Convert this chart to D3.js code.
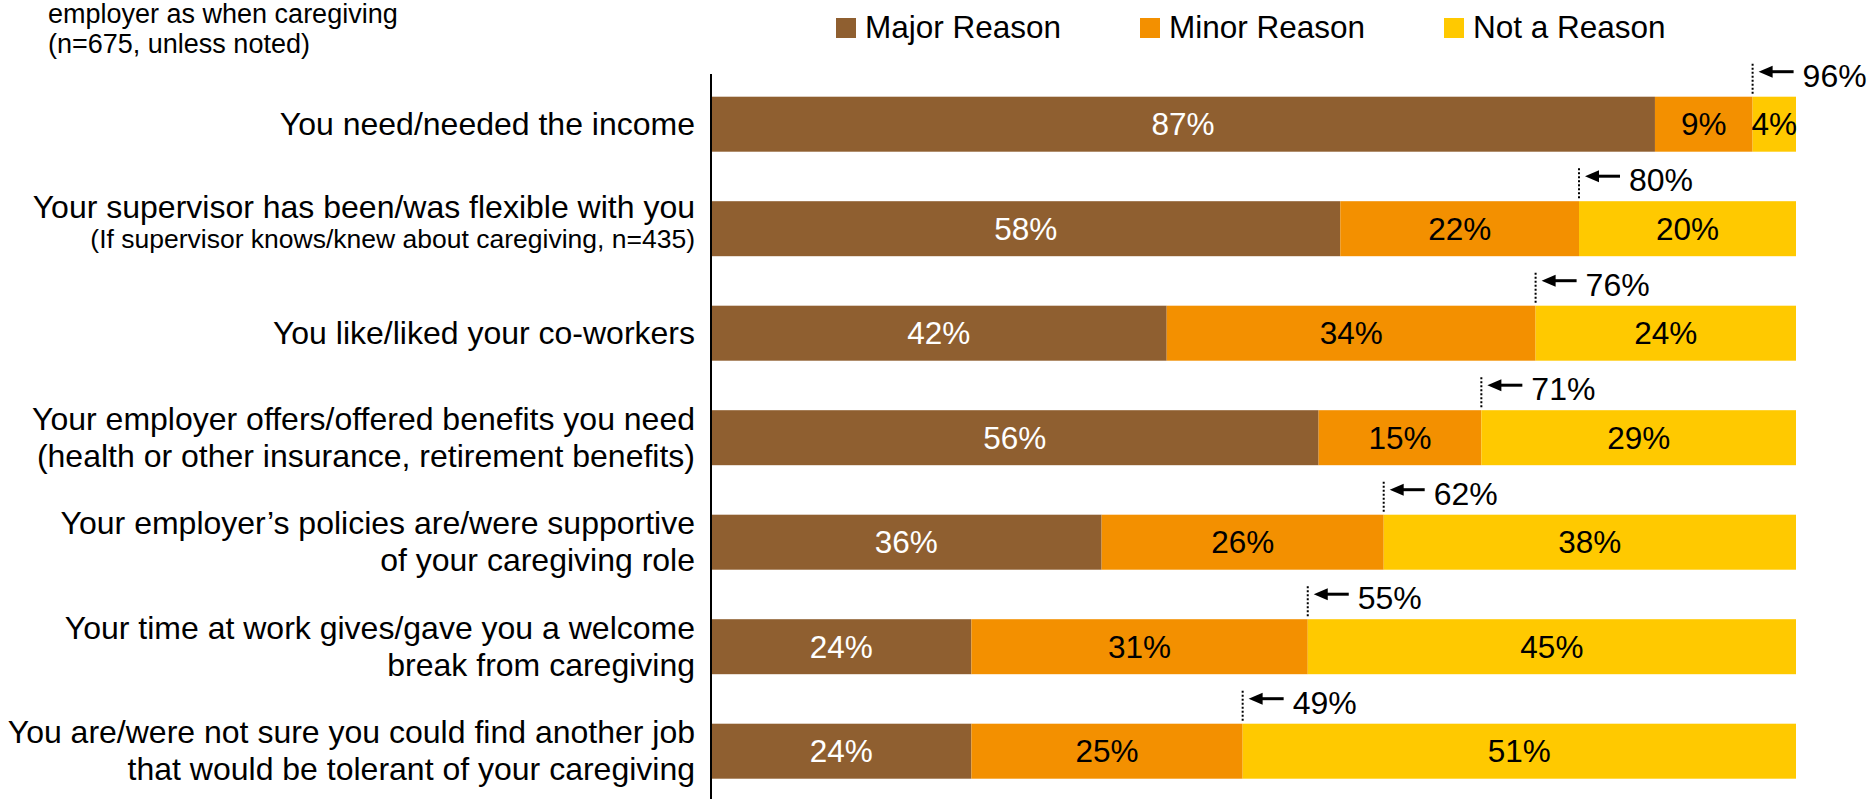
<!DOCTYPE html>
<html>
<head>
<meta charset="utf-8">
<script src="https://cdn.jsdelivr.net/npm/d3@7/dist/d3.min.js"></script>
<style>
  html, body { margin: 0; padding: 0; background: #fff; }
  svg { display: block; }
  text { font-family: "Liberation Sans", Arial, Helvetica, sans-serif; }
</style>
</head>
<body>
<svg id="chart" width="1870" height="799"></svg>
<script>
// Reasons for staying with the employer while caregiving (percent of respondents)
const categories = [
  ["You need/needed the income"],
  ["Your supervisor has been/was flexible with you"],
  ["You like/liked your co-workers"],
  ["Your employer offers/offered benefits you need", "(health or other insurance, retirement benefits)"],
  ["Your employer\u2019s policies are/were supportive", "of your caregiving role"],
  ["Your time at work gives/gave you a welcome", "break from caregiving"],
  ["You are/were not sure you could find another job", "that would be tolerant of your caregiving"]
];
const notes = ["", "(If supervisor knows/knew about caregiving, n=435)", "", "", "", "", ""];

const seriesNames = ["Major Reason", "Minor Reason", "Not a Reason"];
const majorReason = [87, 58, 42, 56, 36, 24, 24];
const minorReason = [9, 22, 34, 15, 26, 31, 25];
const notAReason  = [4, 20, 24, 29, 38, 45, 51];
const combined    = [96, 80, 76, 71, 62, 55, 49];

const titleLines = ["employer as when caregiving", "(n=675, unless noted)"];

const colors = ["#8f5f30", "#f39000", "#ffc900"];
const labelColors = ["#ffffff", "#000000", "#000000"];

const svg = d3.select("#chart");

const x = d3.scaleLinear().domain([0, 100]).range([711, 1796]);
const y = d3.scaleBand()
  .domain(d3.range(categories.length))
  .range([75.8, 799.6])
  .paddingInner(0.4737)
  .paddingOuter(0.2);

const rows = categories.map((c, i) => ({
  i,
  values: [majorReason[i], minorReason[i], notAReason[i]]
}));

const stack = d3.stack().keys([0, 1, 2]).value((d, k) => d.values[k]);
const layers = stack(rows);

// Stacked bars
const layerG = svg.append("g").selectAll("g")
  .data(layers)
  .join("g")
  .attr("fill", (d, k) => colors[k]);

layerG.selectAll("rect")
  .data(d => d)
  .join("rect")
  .attr("x", d => x(d[0]))
  .attr("y", d => y(d.data.i))
  .attr("width", d => x(d[1]) - x(d[0]))
  .attr("height", y.bandwidth());

// Segment value labels
layers.forEach((layer, k) => {
  svg.append("g").selectAll("text")
    .data(layer)
    .join("text")
    .attr("x", d => (x(d[0]) + x(d[1])) / 2)
    .attr("y", d => y(d.data.i) + y.bandwidth() / 2)
    .attr("dy", "0.35em")
    .attr("text-anchor", "middle")
    .attr("font-size", 31.5)
    .attr("fill", labelColors[k])
    .text(d => d.data.values[k] + "%");
});

// Combined "major + minor" markers above each bar
const marker = svg.append("g").selectAll("g")
  .data(combined)
  .join("g")
  .attr("transform", (d, i) => `translate(${x(d)},${y(i)})`);

marker.append("line")
  .attr("x1", 0).attr("x2", 0)
  .attr("y1", -33).attr("y2", -3)
  .attr("stroke", "#000")
  .attr("stroke-width", 2)
  .attr("stroke-dasharray", "2,2");

marker.append("line")
  .attr("x1", 17).attr("x2", 41)
  .attr("y1", -25).attr("y2", -25)
  .attr("stroke", "#000")
  .attr("stroke-width", 3);

marker.append("path")
  .attr("d", "M6,-25 L20,-31 L20,-19 Z")
  .attr("fill", "#000");

marker.append("text")
  .attr("x", 50)
  .attr("y", -10)
  .attr("font-size", 32)
  .attr("fill", "#000")
  .text(d => d + "%");

// Category labels
const labelX = 695;
const catG = svg.append("g").selectAll("g")
  .data(categories)
  .join("g")
  .attr("transform", (d, i) => `translate(${labelX},${y(i) + y.bandwidth() / 2})`);

catG.each(function(lines, i) {
  const g = d3.select(this);
  if (notes[i]) {
    g.append("text").attr("text-anchor", "end").attr("font-size", 32)
      .attr("y", -11).text(lines[0]);
    g.append("text").attr("text-anchor", "end").attr("font-size", 26.5)
      .attr("y", 19).text(notes[i]);
  } else if (lines.length === 2) {
    g.append("text").attr("text-anchor", "end").attr("font-size", 32)
      .attr("y", -8).text(lines[0]);
    g.append("text").attr("text-anchor", "end").attr("font-size", 32)
      .attr("y", 29).text(lines[1]);
  } else {
    g.append("text").attr("text-anchor", "end").attr("font-size", 32)
      .attr("dy", "0.35em").text(lines[0]);
  }
});

// Vertical axis line
svg.append("line")
  .attr("x1", 711).attr("x2", 711)
  .attr("y1", 74).attr("y2", 799)
  .attr("stroke", "#000")
  .attr("stroke-width", 2);

// Title (continuation lines)
svg.append("g").selectAll("text")
  .data(titleLines)
  .join("text")
  .attr("x", 48)
  .attr("y", (d, i) => 23 + i * 30)
  .attr("font-size", 27)
  .attr("fill", "#000")
  .text(d => d);

// Legend
const legendX = [836, 1140, 1444];
const legend = svg.append("g").selectAll("g")
  .data(seriesNames)
  .join("g")
  .attr("transform", (d, k) => `translate(${legendX[k]},18)`);

legend.append("rect")
  .attr("width", 20).attr("height", 20)
  .attr("fill", (d, k) => colors[k]);

legend.append("text")
  .attr("x", 29)
  .attr("y", 20)
  .attr("font-size", 31.5)
  .attr("fill", "#000")
  .text(d => d);
</script>
</body>
</html>
